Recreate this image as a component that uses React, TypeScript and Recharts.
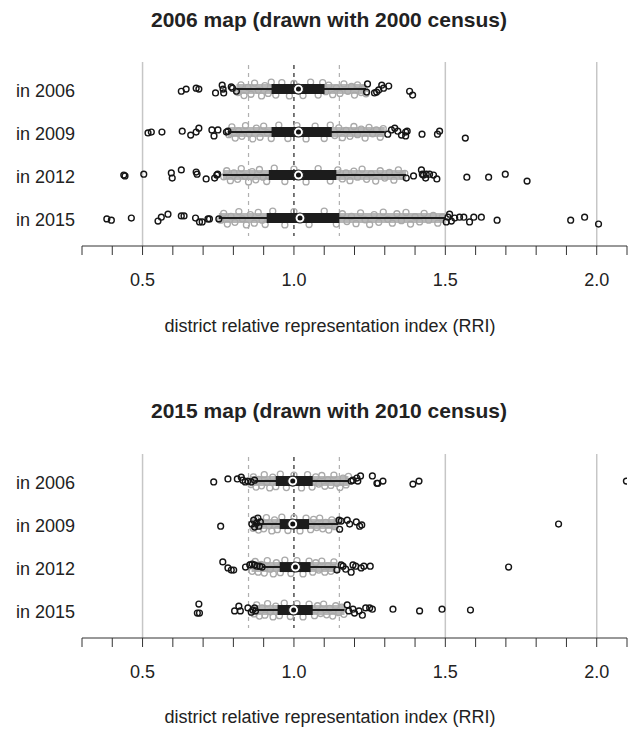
import React from 'react';
import { ComposedChart, XAxis, YAxis, Scatter, ReferenceLine } from 'recharts';

// ---------- labels & ticks ----------
const rowLabels = ['in 2006', 'in 2009', 'in 2012', 'in 2015'];
const xTicks = [0.3, 0.4, 0.5, 0.6, 0.7, 0.8, 0.9, 1.0, 1.1, 1.2, 1.3, 1.4, 1.5, 1.6, 1.7, 1.8, 1.9, 2.0, 2.1];
const labelledTicks = [0.5, 1.0, 1.5, 2.0];
const panelTitles = ['2006 map (drawn with 2000 census)', '2015 map (drawn with 2010 census)'];
const axisTitle = 'district relative representation index (RRI)';

// ---------- 2006 map: box statistics per row ----------
const lo06 = [0.81, 0.782, 0.765, 0.752];
const q1_06 = [0.926, 0.926, 0.917, 0.91];
const med06 = [1.015, 1.015, 1.015, 1.02];
const q3_06 = [1.101, 1.125, 1.14, 1.15];
const hi06 = [1.238, 1.3, 1.37, 1.5];

// ---------- 2015 map: box statistics per row ----------
const lo15 = [0.87, 0.865, 0.897, 0.877];
const q1_15 = [0.94, 0.953, 0.953, 0.946];
const med15 = [0.996, 0.996, 1.005, 0.999];
const q3_15 = [1.062, 1.05, 1.055, 1.062];
const hi15 = [1.183, 1.147, 1.14, 1.167];

// ---------- extent of the grey (non-outlier) cloud per row ----------
const cloudLo06 = [0.81, 0.782, 0.765, 0.752];
const cloudHi06 = [1.238, 1.3, 1.37, 1.5];
const cloudLo15 = [0.855, 0.86, 0.86, 0.865];
const cloudHi15 = [1.18, 1.147, 1.14, 1.167];

// ---------- outliers [value, vertical jitter] ----------
const out06_2006 = [[0.628,0.05],[0.644,0],[0.677,-0.02],[0.686,0],[0.741,0.09],[0.763,-0.09],[0.768,0.09],[0.766,0],[0.793,-0.05],[0.797,-0.02],[0.81,0.05],
  [1.243,-0.12],[1.24,0.07],[1.266,0.09],[1.273,0.07],[1.28,0.02],[1.29,-0.09],[1.296,-0.02],[1.313,-0.07],[1.382,0.05],[1.392,0.14]];
const out06_2009 = [[0.518,0.02],[0.529,0],[0.564,0],[0.631,-0.02],[0.659,0.07],[0.677,0],[0.686,-0.09],[0.729,-0.05],[0.736,0.09],[0.749,-0.05],[0.777,0],[0.782,-0.02],
  [1.31,0.05],[1.322,-0.05],[1.333,-0.09],[1.343,-0.02],[1.355,0.07],[1.369,0],[1.374,-0.02],[1.369,0.09],[1.423,0.05],[1.474,0.05],[1.481,-0.02],[1.566,0.14]];
const out06_2012 = [[0.438,0],[0.442,0.02],[0.504,-0.02],[0.595,-0.05],[0.598,0.07],[0.628,-0.12],[0.677,-0.07],[0.68,-0.02],[0.71,0.09],[0.738,0.07],[0.745,0],[0.748,-0.02],
  [1.371,0.07],[1.395,0.02],[1.421,-0.12],[1.424,-0.02],[1.428,0],[1.435,0.07],[1.437,-0.02],[1.448,-0.02],[1.461,0],[1.472,0.09],[1.571,0.05],[1.643,0.05],[1.698,-0.02],[1.77,0.14]];
const out06_2015 = [[0.382,0.02],[0.397,0.05],[0.463,0],[0.551,0.07],[0.562,-0.02],[0.584,-0.09],[0.628,-0.05],[0.637,-0.05],[0.675,0],[0.688,0.09],[0.697,0.09],[0.716,0.02],[0.721,0.02],[0.752,0.02],
  [1.503,0.09],[1.509,-0.02],[1.514,-0.09],[1.52,0.07],[1.531,0],[1.547,-0.02],[1.561,-0.02],[1.58,0.09],[1.594,-0.02],[1.619,-0.02],[1.671,0.05],[1.914,0.05],[1.96,-0.02],[2.006,0.14]];

const out15_2006 = [[0.735,0.02],[0.782,-0.05],[0.813,-0.05],[0.826,-0.09],[0.831,-0.02],[0.839,0.02],[0.848,0],[0.859,0.02],[0.87,-0.02],
  [1.189,0],[1.195,-0.02],[1.208,-0.07],[1.211,0],[1.22,-0.12],[1.259,-0.12],[1.274,0.05],[1.277,0.05],[1.294,0],[1.393,0.07],[1.413,0],[2.098,0]];
const out15_2009 = [[0.758,0.05],[0.861,0],[0.867,-0.09],[0.87,0.07],[0.876,-0.02],[0.881,-0.14],[0.884,0.05],[0.889,-0.05],
  [1.149,-0.09],[1.151,0.12],[1.156,-0.07],[1.176,-0.09],[1.184,0],[1.206,-0.05],[1.217,0.05],[1.224,0.02],[1.874,0]];
const out15_2012 = [[0.765,-0.12],[0.782,0.02],[0.793,0.07],[0.801,0.07],[0.84,0],[0.854,-0.05],[0.862,-0.07],[0.87,-0.05],[0.878,-0.02],[0.887,-0.02],[0.895,0],
  [1.142,0.07],[1.156,-0.05],[1.162,-0.02],[1.171,0.05],[1.189,0.12],[1.195,-0.05],[1.204,-0.02],[1.222,0.02],[1.231,-0.02],[1.252,-0.02],[1.709,0]];
const out15_2015 = [[0.681,0.07],[0.686,-0.14],[0.688,0.07],[0.804,0.02],[0.818,-0.09],[0.823,0.02],[0.848,-0.05],[0.859,0.05],[0.864,0],[0.87,-0.05],[0.873,0.02],
  [1.176,-0.12],[1.181,0.02],[1.195,-0.02],[1.2,0.07],[1.215,0.02],[1.226,0.12],[1.237,-0.05],[1.25,-0.05],[1.259,-0.02],[1.327,-0.02],[1.415,0.02],[1.489,-0.02],[1.583,0]];

// ---------- non-outlier districts (grey) [value, vertical jitter] ----------
const grey06_2006 = [[0.815,0.08],[0.825,-0.1],[0.835,0.15],[0.848,-0.04],[0.858,0.12],[0.87,-0.14],[0.882,0.03],[0.893,0.16],[0.904,-0.08],[0.915,0.1],[0.925,-0.16],[0.94,0.14],[0.96,-0.15],[0.985,0.16],[1.0,-0.13],[1.03,0.15],[1.055,-0.16],[1.08,0.14],[1.095,-0.15],[1.105,0.06],[1.115,-0.09],[1.128,0.13],[1.14,-0.03],[1.152,0.1],[1.165,-0.12],[1.178,0.05],[1.19,-0.06],[1.2,0.14],[1.21,-0.1],[1.222,0.08],[1.232,-0.02],[1.238,0.11]];
const grey06_2009 = [[0.785,0.06],[0.795,-0.12],[0.806,0.14],[0.817,-0.03],[0.828,0.1],[0.84,-0.15],[0.852,0.04],[0.864,0.16],[0.876,-0.09],[0.888,0.12],[0.9,-0.14],[0.912,0.02],[0.925,0.15],[0.95,-0.16],[0.98,0.15],[1.01,-0.15],[1.04,0.16],[1.07,-0.14],[1.1,0.15],[1.12,-0.16],[1.135,0.08],[1.148,-0.1],[1.16,0.13],[1.172,-0.04],[1.185,0.1],[1.198,-0.13],[1.21,0.06],[1.222,-0.07],[1.235,0.14],[1.248,-0.11],[1.26,0.04],[1.272,-0.05],[1.285,0.12],[1.295,-0.08]];
const grey06_2012 = [[0.768,0.04],[0.778,-0.1],[0.79,0.13],[0.802,-0.05],[0.814,0.1],[0.826,-0.15],[0.838,0.03],[0.85,0.16],[0.862,-0.08],[0.874,0.11],[0.886,-0.13],[0.898,0.05],[0.91,0.15],[0.935,-0.16],[0.97,0.15],[1.0,-0.14],[1.04,0.16],[1.08,-0.15],[1.12,0.14],[1.145,-0.12],[1.16,0.09],[1.172,-0.05],[1.185,0.13],[1.198,-0.09],[1.21,0.05],[1.225,-0.14],[1.24,0.1],[1.255,-0.03],[1.27,0.14],[1.285,-0.1],[1.3,0.07],[1.315,-0.06],[1.33,0.12],[1.345,-0.12],[1.358,0.03],[1.366,-0.04]];
const grey06_2015 = [[0.758,0.05],[0.768,-0.11],[0.78,0.14],[0.792,-0.04],[0.805,0.1],[0.818,-0.15],[0.83,0.02],[0.843,0.16],[0.856,-0.08],[0.869,0.12],[0.882,-0.13],[0.895,0.05],[0.905,0.15],[0.93,-0.16],[0.97,0.16],[1.0,-0.15],[1.05,0.15],[1.1,-0.16],[1.14,0.14],[1.16,-0.1],[1.175,0.08],[1.19,-0.04],[1.205,0.13],[1.22,-0.12],[1.235,0.04],[1.25,0.15],[1.265,-0.08],[1.28,0.1],[1.295,-0.14],[1.31,0.03],[1.325,0.12],[1.34,-0.1],[1.355,0.06],[1.37,-0.13],[1.385,0.14],[1.4,-0.03],[1.415,0.09],[1.43,-0.11],[1.445,0.05],[1.46,-0.06],[1.475,0.12],[1.49,-0.02]];

const grey15_2006 = [[0.858,0.08],[0.866,-0.1],[0.875,0.14],[0.884,-0.04],[0.893,0.11],[0.902,-0.15],[0.911,0.03],[0.92,0.16],[0.93,-0.09],[0.94,0.13],[0.955,-0.16],[0.975,0.15],[1.0,-0.14],[1.025,0.16],[1.045,-0.15],[1.06,0.14],[1.072,-0.1],[1.082,0.07],[1.092,-0.13],[1.102,0.12],[1.112,-0.03],[1.122,0.1],[1.132,-0.14],[1.142,0.05],[1.152,0.15],[1.162,-0.07],[1.172,0.09],[1.18,-0.11]];
const grey15_2009 = [[0.865,0.1],[0.874,-0.12],[0.883,0.14],[0.892,-0.05],[0.9,0.11],[0.909,-0.15],[0.918,0.04],[0.927,0.16],[0.936,-0.1],[0.945,0.13],[0.96,-0.16],[0.98,0.15],[1.0,-0.15],[1.02,0.16],[1.04,-0.14],[1.055,0.13],[1.065,-0.11],[1.075,0.08],[1.085,-0.14],[1.095,0.11],[1.105,-0.04],[1.115,0.14],[1.125,-0.1],[1.135,0.06],[1.143,-0.06]];
const grey15_2012 = [[0.862,0.1],[0.872,-0.13],[0.882,0.12],[0.892,-0.06],[0.902,0.14],[0.912,-0.15],[0.922,0.05],[0.932,0.16],[0.942,-0.1],[0.955,0.13],[0.97,-0.16],[0.99,0.15],[1.01,-0.15],[1.03,0.16],[1.05,-0.14],[1.062,0.12],[1.072,-0.1],[1.082,0.07],[1.092,-0.14],[1.102,0.12],[1.112,-0.03],[1.122,0.1],[1.132,-0.12],[1.138,0.05]];
const grey15_2015 = [[0.868,0.09],[0.877,-0.12],[0.886,0.14],[0.895,-0.05],[0.904,0.12],[0.913,-0.15],[0.922,0.04],[0.931,0.16],[0.94,-0.09],[0.952,0.13],[0.968,-0.16],[0.988,0.15],[1.01,-0.15],[1.03,0.16],[1.05,-0.14],[1.068,0.13],[1.078,-0.1],[1.088,0.08],[1.098,-0.14],[1.108,0.11],[1.118,-0.04],[1.128,0.14],[1.138,-0.1],[1.148,0.06],[1.158,-0.07],[1.165,0.1]];

const FONT = '"Liberation Sans", Arial, Helvetica, sans-serif';

const toPoints = (rows: number[][][]) =>
  rows.flatMap((row, i) => row.map(([x, j]) => ({ x, y: i + 1 + j })));

const Empty = () => <g />;
const GreyDot = (p: any) => (
  <circle cx={p.cx} cy={p.cy} r={3} fill="none" stroke="#a9a9a9" strokeWidth={1.3} />
);
const OutDot = (p: any) => (
  <circle cx={p.cx} cy={p.cy} r={2.9} fill="none" stroke="#151515" strokeWidth={1.4} />
);
const MedDot = (p: any) => (
  <g>
    <circle cx={p.cx} cy={p.cy} r={5} fill="#fff" stroke="#222" strokeWidth={1.1} />
    <circle cx={p.cx} cy={p.cy} r={2.5} fill="#111" />
  </g>
);

const XTick = (p: any) => {
  const v = p.payload.value;
  if (!labelledTicks.some((t) => Math.abs(t - v) < 1e-9)) return <g />;
  return (
    <text x={p.x} y={p.y + 29} textAnchor="middle" fontFamily={FONT} fontSize={18} fill="#222">
      {v.toFixed(1)}
    </text>
  );
};
const YTick = (p: any) => (
  <text x={16} y={p.y + 8} textAnchor="start" fontFamily={FONT} fontSize={18} fill="#222">
    {rowLabels[p.payload.value - 1]}
  </text>
);

type PanelProps = {
  lo: number[]; q1: number[]; med: number[]; q3: number[]; hi: number[];
  cLo: number[]; cHi: number[];
  outs: number[][][]; greys: number[][][];
};

const Panel = ({ lo, q1, med, q3, hi, cLo, cHi, outs, greys }: PanelProps) => {
  const greyData = toPoints(greys);
  const outData = toPoints(outs);
  const medData = med.map((x, i) => ({ x, y: i + 1 }));
  return (
    <ComposedChart width={634} height={339} margin={{ top: 62, right: 7, bottom: 0, left: 0 }}>
      <XAxis type="number" dataKey="x" domain={[0.3, 2.1]} ticks={xTicks} interval={0} tickSize={9}
        tick={<XTick />} stroke="#333" height={93} allowDataOverflow />
      <YAxis type="number" dataKey="y" domain={[0.37, 4.65]} reversed ticks={[1, 2, 3, 4]} interval={0}
        axisLine={false} tickLine={false} width={82} tick={<YTick />} allowDataOverflow />
      <ReferenceLine x={0.5} stroke="#c6c6c6" strokeWidth={1.5} />
      <ReferenceLine x={1.5} stroke="#c6c6c6" strokeWidth={1.5} />
      <ReferenceLine x={2.0} stroke="#c6c6c6" strokeWidth={1.5} />
      <ReferenceLine segment={[{ x: 0.85, y: 0.44 }, { x: 0.85, y: 4.42 }]} stroke="#b0b0b0" strokeDasharray="4 4" strokeWidth={1.2} />
      <ReferenceLine segment={[{ x: 1.15, y: 0.44 }, { x: 1.15, y: 4.42 }]} stroke="#b0b0b0" strokeDasharray="4 4" strokeWidth={1.2} />
      <ReferenceLine segment={[{ x: 1.0, y: 0.44 }, { x: 1.0, y: 4.42 }]} stroke="#222" strokeDasharray="4 4" strokeWidth={1.2} />
      {cLo.map((l, i) => (
        <Scatter key={'c' + i} data={[{ x: l, y: i + 1 }, { x: cHi[i], y: i + 1 }]} shape={Empty}
          line={{ stroke: '#b6b6b6', strokeWidth: 10 }} isAnimationActive={false} />
      ))}
      <Scatter data={greyData} shape={GreyDot} isAnimationActive={false} />
      {lo.map((l, i) => (
        <Scatter key={'w' + i} data={[{ x: l, y: i + 1 }, { x: hi[i], y: i + 1 }]} shape={Empty}
          line={{ stroke: '#1c1c1c', strokeWidth: 2 }} isAnimationActive={false} />
      ))}
      {q1.map((l, i) => (
        <Scatter key={'b' + i} data={[{ x: l, y: i + 1 }, { x: q3[i], y: i + 1 }]} shape={Empty}
          line={{ stroke: '#1c1c1c', strokeWidth: 10 }} isAnimationActive={false} />
      ))}
      <Scatter data={outData} shape={OutDot} isAnimationActive={false} />
      <Scatter data={medData} shape={MedDot} isAnimationActive={false} />
    </ComposedChart>
  );
};

export default function App() {
  return (
    <div style={{ position: 'absolute', left: 0, top: 0, width: 634, height: 731, background: '#fff', overflow: 'hidden' }}>
      <div style={{ position: 'absolute', left: 0, top: 0 }}>
        <Panel lo={lo06} q1={q1_06} med={med06} q3={q3_06} hi={hi06} cLo={cloudLo06} cHi={cloudHi06}
          outs={[out06_2006, out06_2009, out06_2012, out06_2015]}
          greys={[grey06_2006, grey06_2009, grey06_2012, grey06_2015]} />
      </div>
      <div style={{ position: 'absolute', left: 0, top: 392 }}>
        <Panel lo={lo15} q1={q1_15} med={med15} q3={q3_15} hi={hi15} cLo={cloudLo15} cHi={cloudHi15}
          outs={[out15_2006, out15_2009, out15_2012, out15_2015]}
          greys={[grey15_2006, grey15_2009, grey15_2012, grey15_2015]} />
      </div>
      <svg width={634} height={731} style={{ position: 'absolute', left: 0, top: 0, pointerEvents: 'none' }}>
        {panelTitles.map((t, i) => (
          <text key={t} x={329} y={27 + i * 391} textAnchor="middle" fontFamily={FONT} fontWeight="bold" fontSize={21} fill="#222">
            {t}
          </text>
        ))}
        {[0, 1].map((i) => (
          <text key={i} x={330} y={332 + i * 391} textAnchor="middle" fontFamily={FONT} fontSize={18} fill="#222">
            {axisTitle}
          </text>
        ))}
      </svg>
    </div>
  );
}
